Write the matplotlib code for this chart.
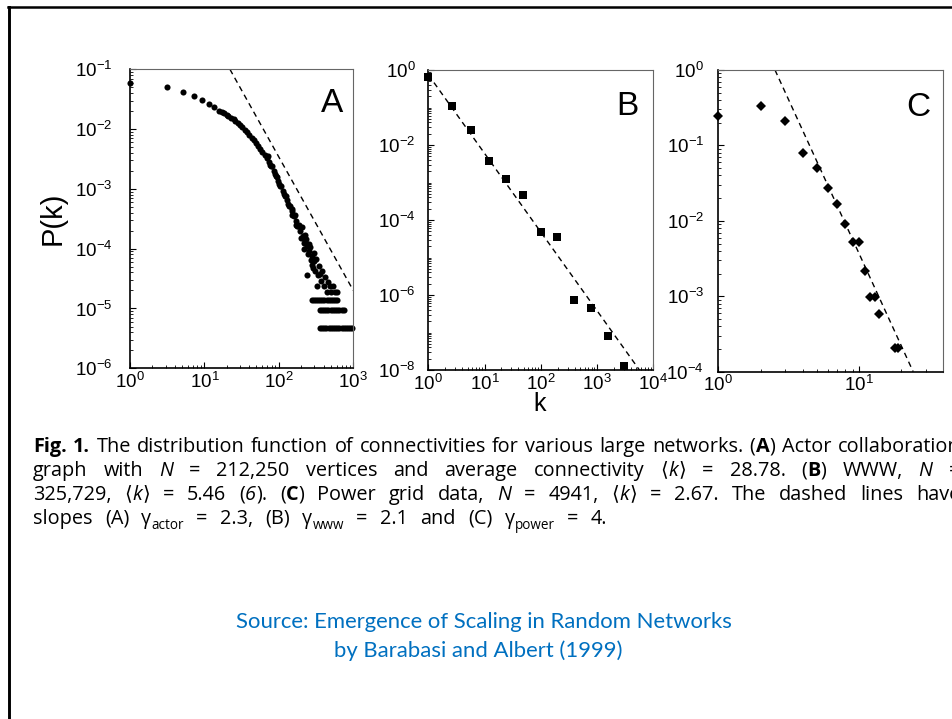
import numpy as np
import matplotlib
matplotlib.use("Agg")
import matplotlib.pyplot as plt
from matplotlib.ticker import LogLocator, FixedLocator, LogFormatterSciNotation, NullFormatter
from matplotlib.lines import Line2D

W, H = 952, 719
plt.rcParams['font.family'] = ['Liberation Sans', 'DejaVu Sans']

# ---------------- data ----------------
# Panel A: actor collaboration graph
kA = [1, 3.1, 5.1, 7.2, 9.3, 11.4, 13.6, 15.7, 17, 18.3, 20, 21, 23, 25, 26, 28, 30, 32,
      35, 37, 40, 43, 46, 49, 52, 56, 60, 65, 69, 74, 79, 85, 91, 98, 105, 112, 120, 129,
      138, 148, 158, 170, 182, 195, 209, 224, 240, 257, 275, 295]
PA = [0.0597, 0.050, 0.042, 0.0358, 0.0303, 0.0266, 0.0234, 0.0201, 0.0190, 0.0184, 0.0172,
      0.0165, 0.0154, 0.0146, 0.0135, 0.0126, 0.0117, 0.0107, 0.0098, 0.0090, 0.0081, 0.0072,
      0.0065, 0.0059, 0.0053, 0.0047, 0.0041, 0.0037, 0.0033, 0.0028, 0.0024, 0.0020, 0.00166,
      0.00137, 0.00113, 9.3e-4, 7.7e-4, 6.4e-4, 5.2e-4, 4.3e-4, 3.55e-4, 2.93e-4, 2.42e-4,
      1.99e-4, 1.64e-4, 1.36e-4, 1.12e-4, 9.2e-5, 7.6e-5, 6.3e-5]
# spread of the thick tail of panel A
kA_spread = [72, 77, 82, 88, 95, 101, 108, 116, 124, 133, 142, 150, 152, 163, 168, 175, 188,
             200, 205, 215, 215, 222, 230, 237, 245, 252, 262, 270, 280, 290, 300, 310, 320,
             330, 335, 350, 360, 365, 380, 400, 420, 440, 460, 480, 500, 530, 560, 600]
PA_spread = [0.0035, 0.0025, 0.0024, 0.0018, 0.0016, 0.0012, 0.0011, 8.2e-4, 7.6e-4, 5.5e-4,
             5.2e-4, 4.6e-4, 3.6e-4, 3.6e-4, 2.5e-4, 2.4e-4, 2.5e-4, 1.5e-4, 2.3e-4, 1.25e-4,
             1.0e-4, 1.7e-4, 1.45e-4, 3.6e-5, 8.0e-5, 1.2e-4, 1.05e-4, 6.5e-5, 5.3e-5, 4.7e-5,
             8.5e-5, 4.3e-5, 6.8e-5, 2.4e-5, 3.6e-5, 5.2e-5, 3.8e-5, 2.9e-5, 4.3e-5, 2.4e-5,
             3.3e-5, 1.9e-5, 2.8e-5, 2.4e-5, 1.9e-5, 2.4e-5, 1.9e-5, 1.9e-5]
# quantized rows (3/N, 2/N, 1/N)
kA_row3 = [280, 300, 320, 340, 360, 385, 410, 440, 470, 500, 535, 570, 600]
PA_row3 = [1.41e-5] * len(kA_row3)
kA_row2 = [355, 375, 400, 430, 460, 495, 530, 570, 610, 650, 700, 755]
PA_row2 = [9.42e-6] * len(kA_row2)
kA_row1 = [355, 380, 405, 435, 465, 500, 535, 570, 610, 650, 695, 745, 795, 850, 905, 960]
PA_row1 = [4.71e-6] * len(kA_row1)
kA_line = [22, 1000]
PA_line = [0.1, 2.0e-5]

# Panel B: WWW
kB = [1, 2.6, 5.7, 11.8, 24.1, 49, 99.6, 192, 389, 771, 1540, 3020]
PB = [0.64, 0.11, 0.025, 0.0038, 0.00121, 4.6e-4, 4.9e-5, 3.5e-5, 7.4e-7, 4.4e-7, 8.1e-8, 1.28e-8]
kB_line = [1.0, 6500]
PB_line = [0.75, 7.5e-9]

# Panel C: power grid
kC = [1, 2, 3, 4, 5, 6, 7, 8, 9, 10, 11, 12, 13, 14, 18, 19]
PC = [0.245, 0.333, 0.211, 0.080, 0.0497, 0.0275, 0.0167, 0.0091, 0.00529, 0.00519, 0.00219,
      9.9e-4, 9.9e-4, 5.9e-4, 2.04e-4, 2.04e-4]
kC_line = [2.53, 24.3]
PC_line = [1.0, 1.0e-4]

panel_letters = ["A", "B", "C"]
ylabel_text = "P(k)"
xlabel_text = "k"

caption_lines = [
    r"b:Fig. b:1. The distribution function of connectivities for various large networks. (|b:A|) Actor collaboration",
    r"graph with i:N = 212,250 vertices and average connectivity m:$\langle$|i:k|m:$\rangle$ = 28.78. (|b:B|) WWW, i:N =",
    r"325,729, m:$\langle$|i:k|m:$\rangle$ = 5.46 (|i:6|). (|b:C|) Power grid data, i:N = 4941, m:$\langle$|i:k|m:$\rangle$ = 2.67. The dashed lines have",
    r"slopes (A) γ|s:actor = 2.3, (B) γ|s:www = 2.1 and (C) γ|s:power = 4.",
]
source_lines = ["Source: Emergence of Scaling in Random Networks",
                "by Barabasi and Albert (1999)"]

# ---------------- figure ----------------
fig = plt.figure(figsize=(W / 100, H / 100), dpi=100)
fig.patch.set_facecolor("white")


def px_axes(l, t, r, b):
    return fig.add_axes([l / W, 1 - b / H, (r - l) / W, (b - t) / H])


axA = px_axes(130, 69.3, 353.3, 368.3)
axB = px_axes(428.3, 70, 653.3, 370)
axC = px_axes(718.3, 70, 943.3, 371.7)


def style(ax, xlim, ylim, ypad, ymajor=None):
    ax.set_xscale("log")
    ax.set_yscale("log")
    ax.set_xlim(*xlim)
    ax.set_ylim(*ylim)
    for s in ["left", "bottom"]:
        ax.spines[s].set_linewidth(1.2)
        ax.spines[s].set_color("black")
    for s in ["top", "right"]:
        ax.spines[s].set_linewidth(0.8)
        ax.spines[s].set_color("#666666")
    ax.xaxis.set_major_locator(LogLocator(base=10, numticks=50))
    ax.xaxis.set_minor_locator(LogLocator(base=10, subs=np.arange(2, 10), numticks=50))
    if ymajor is None:
        ax.yaxis.set_major_locator(LogLocator(base=10, numticks=50))
        ax.yaxis.set_minor_locator(LogLocator(base=10, subs=np.arange(2, 10), numticks=50))
    else:
        ax.yaxis.set_major_locator(FixedLocator(ymajor))
        ax.yaxis.set_minor_locator(LogLocator(base=10, subs=np.arange(1, 10), numticks=50))
    ax.xaxis.set_major_formatter(LogFormatterSciNotation())
    ax.yaxis.set_major_formatter(LogFormatterSciNotation())
    ax.xaxis.set_minor_formatter(NullFormatter())
    ax.yaxis.set_minor_formatter(NullFormatter())
    ax.tick_params(which="both", direction="in", top=False, right=False, labelsize=13.5,
                   colors="black")
    ax.tick_params(which="major", length=4, width=0.8)
    ax.tick_params(which="minor", length=2, width=0.6)
    ax.tick_params(axis="y", pad=ypad)
    ax.tick_params(axis="x", pad=2.5)


style(axA, (1, 1000), (1e-6, 1e-1), 12.5)
style(axB, (1, 1e4), (1e-8, 1e0), 9.0, ymajor=[1e0, 1e-2, 1e-4, 1e-6, 1e-8])
style(axC, (1, 39.8), (1e-4, 1e0), 10.3)

mk = dict(color="black", linestyle="none", mew=0, clip_on=False)
axA.plot(kA, PA, "o", ms=4.4, **mk)
axA.plot(kA_spread, PA_spread, "o", ms=4.4, **mk)
axA.plot(kA_row3, PA_row3, "o", ms=4.4, **mk)
axA.plot(kA_row2, PA_row2, "o", ms=4.4, **mk)
axA.plot(kA_row1, PA_row1, "o", ms=4.4, **mk)
axA.plot(kA_line, PA_line, color="black", lw=1.0, dashes=(4, 3))

axB.plot(kB, PB, "s", ms=5.5, **mk)
axB.plot(kB_line, PB_line, color="black", lw=1.0, dashes=(4, 3))

axC.plot(kC, PC, "D", ms=4.8, **mk)
axC.plot(kC_line, PC_line, color="black", lw=1.0, dashes=(4, 3))

for ax, letter, (lx, ly) in zip([axA, axB, axC], panel_letters,
                                [(0.905, 0.886), (0.884, 0.877), (0.889, 0.877)]):
    ax.text(lx, ly, letter, transform=ax.transAxes, ha="center", va="center", fontsize=24)

fig.text(53 / W, 1 - 218 / H, ylabel_text, rotation=90, ha="center", va="center", fontsize=21)
fig.text(540 / W, 1 - 404 / H, xlabel_text, ha="center", va="center", fontsize=18)

# slide border (left and top)
fig.add_artist(Line2D([8.6 / W, 8.6 / W], [0, 1 - 6.5 / H], color="black", lw=2.1))
fig.add_artist(Line2D([7.5 / W, 1], [1 - 7.2 / H, 1 - 7.2 / H], color="black", lw=1.8))

# ---------------- caption (justified, word by word) ----------------
CAP_FAMILY = ["Open Sans", "DejaVu Sans"]
CAP_SIZE = 14.3
STYLES = {
    "n": dict(family=CAP_FAMILY, fontsize=CAP_SIZE),
    "b": dict(family=CAP_FAMILY, fontsize=CAP_SIZE, fontweight="bold"),
    "i": dict(family=CAP_FAMILY, fontsize=CAP_SIZE, fontstyle="italic"),
    "s": dict(family=CAP_FAMILY, fontsize=CAP_SIZE * 0.68),
    "m": dict(family=CAP_FAMILY, fontsize=CAP_SIZE, math_fontfamily="dejavusans"),
}
SUB_DROP = 5.0
renderer = fig.canvas.get_renderer()


def parse_word(w):
    segs = []
    for piece in w.split("|"):
        if len(piece) > 2 and piece[1] == ":" and piece[0] in STYLES:
            segs.append((piece[2:], piece[0]))
        else:
            segs.append((piece, "n"))
    return segs


def draw_line(line, x0, ybase, x1):
    words = [parse_word(w) for w in line.split(" ")]
    objs = []
    total = 0.0
    for segs in words:
        row = []
        for txt, st in segs:
            t = fig.text(0, 0, txt, ha="left", va="baseline", color="black", **STYLES[st])
            w = t.get_window_extent(renderer).width
            total += w
            row.append((t, w, SUB_DROP if st == "s" else 0.0))
        objs.append(row)
    gap = (x1 - x0 - total) / (len(words) - 1)
    x = x0
    for row in objs:
        for t, w, dy in row:
            t.set_position((x / W, 1 - (ybase + dy) / H))
            x += w
        x += gap


baselines = [451.7, 475.7, 499.7, 523.7]
right_edges = [960, 960, 960, 607]
for line, yb, xr in zip(caption_lines, baselines, right_edges):
    draw_line(line, 33, yb, xr)

for txt, (cx, cy) in zip(source_lines, [(484, 622), (478, 651)]):
    fig.text(cx / W, 1 - cy / H, txt, ha="center", va="center", color="#0070C0",
             family=["Lato", "DejaVu Sans"], fontsize=15.9)

fig.savefig("out.png", dpi=100, facecolor="white")
